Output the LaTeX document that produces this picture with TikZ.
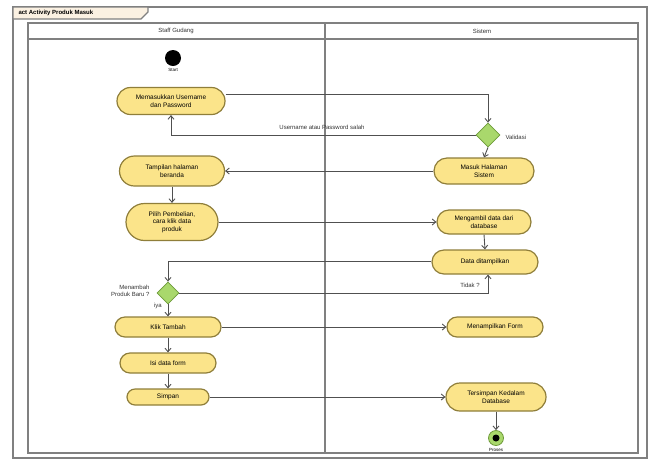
\documentclass[tikz,border=0pt]{standalone}
\usepackage{fontspec}
\setmainfont{Liberation Sans}
\usetikzlibrary{shapes.geometric,shapes.misc,arrows.meta}
\definecolor{actf}{HTML}{FBE48A}
\definecolor{actb}{HTML}{8F7E3A}
\definecolor{decf}{HTML}{A9D86C}
\definecolor{decb}{HTML}{6E9A3A}
\definecolor{flow}{HTML}{505050}
\definecolor{tabf}{HTML}{FBF1E2}
\begin{document}
\begin{tikzpicture}[x=1pt,y=-1pt,
  actbox/.style={rounded rectangle, draw=actb, line width=1.2pt, fill=actf, align=center,
    font=\fontsize{6.5}{7.5}\selectfont, inner xsep=2pt, inner ysep=1pt},
  decbox/.style={diamond, draw=decb, line width=0.8pt, fill=decf, minimum width=24pt, minimum height=24pt, inner sep=0pt},
  flowline/.style={draw=flow, line width=0.9pt, -{Straight Barb[length=3.5pt,width=6pt]}},
  lbl/.style={font=\fontsize{6}{7}\selectfont, text=black!80},
  frameline/.style={draw=black!50, line width=1.2pt}
]
\useasboundingbox (0,0) rectangle (650,459);
% frame
\draw[frameline] (13,7) rectangle (647,458);
\draw[frameline, fill=tabf] (13,7) -- (148,7) -- (148,12) -- (141,19) -- (13,19) -- cycle;
\node[anchor=west, font=\fontsize{6}{7}\selectfont\bfseries] (title) at (15,13) {act Activity Produk Masuk};
% lanes
\draw[frameline] (28,23) rectangle (638,453);
\draw[frameline] (28,39) -- (638,39);
\draw[frameline] (325,23) -- (325,453);
\node[lbl] (lane1) at (176,31) {Staff Gudang};
\node[lbl] (lane2) at (482,31) {Sistem};
% start
\node[circle, fill=black, minimum size=16pt, inner sep=0pt] (start) at (173,58) {};
\node[font=\fontsize{4.5}{5}\selectfont] (startl) at (173,70) {Start};
% activities
\node[actbox, minimum width=112pt, minimum height=27pt] (A) at (171,101) {Memasukkan Username\\dan Password};
\node[decbox] (d1) at (488,135) {};
\node[lbl, anchor=west] (valid) at (502,137) {Validasi};
\node[actbox, minimum width=104pt, minimum height=26pt] (B) at (484,171) {Masuk Halaman\\Sistem};
\node[actbox, minimum width=109pt, minimum height=30pt] (C) at (172,171) {Tampilan halaman\\beranda};
\node[actbox, minimum width=96pt, minimum height=37pt] (D) at (172,222) {Pilih Pembelian,\\cara klik data\\produk};
\node[actbox, minimum width=98pt, minimum height=24pt] (E) at (484,222) {Mengambil data dari\\database};
\node[actbox, minimum width=110pt, minimum height=24pt] (F) at (485,262) {Data ditampilkan};
\node[decbox, minimum width=22pt, minimum height=22pt] (d2) at (168,293) {};
\node[lbl, align=right, anchor=east] (q2) at (153,291) {Menambah\\Produk Baru ?};
\node[actbox, minimum width=110pt, minimum height=20pt] (G) at (168,327) {Klik Tambah};
\node[actbox, minimum width=100pt, minimum height=20pt] (H) at (495,327) {Menampilkan Form};
\node[actbox, minimum width=100pt, minimum height=20pt] (I) at (168,363) {Isi data form};
\node[actbox, minimum width=86pt, minimum height=16pt] (J) at (168,397) {Simpan};
\node[actbox, minimum width=104pt, minimum height=28pt] (K) at (496,397) {Tersimpan Kedalam\\Database};
\node[circle, draw=decb, fill=decf, line width=0.8pt, minimum size=15pt, inner sep=0pt] (fin) at (496,438) {};
\node[circle, fill=black, minimum size=7pt, inner sep=0pt] (finc) at (fin.center) {};
\node[font=\fontsize{4.5}{5}\selectfont] (finl) at (496,450) {Proses};
% flows
\draw[flowline] ([yshift=7pt]A.east) -| (d1.north);
\draw[flowline] (d1.west) -| (A.south);
\node[lbl] (salah) at (322,127) {Username atau Password salah};
\draw[flowline] (d1.south) -- (B.north);
\draw[flowline] (B.west) -- (C.east);
\draw[flowline] (C.south) -- (D.north);
\draw[flowline] (D.east) -- (E.west);
\draw[flowline] (E.south) -- (F.north);
\draw[flowline] ([yshift=1pt]F.west) -| (d2.north);
\draw[flowline] (d2.east) -| ([xshift=3pt]F.south);
\node[lbl] (tidak) at (470,285) {Tidak ?};
\draw[flowline] (d2.south) -- (G.north);
\node[lbl] (iya) at (158,306) {iya};
\draw[flowline] (G.east) -- (H.west);
\draw[flowline] (G.south) -- (I.north);
\draw[flowline] (I.south) -- (J.north);
\draw[flowline] (J.east) -- (K.west);
\draw[flowline] (K.south) -- (fin.north);
\end{tikzpicture}
\end{document}
